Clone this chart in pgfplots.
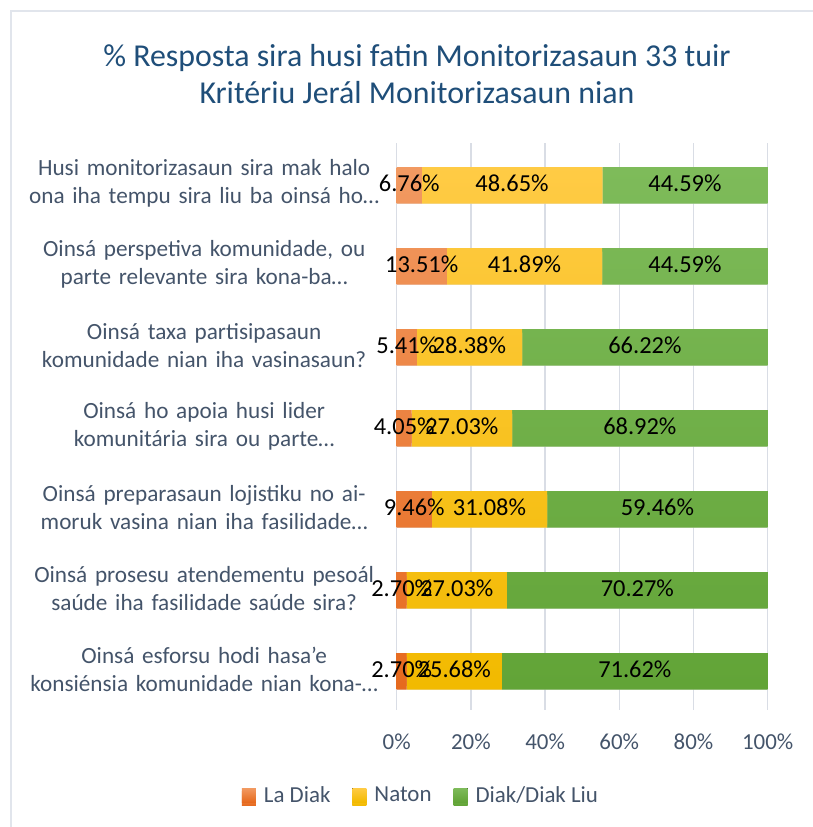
\documentclass[border=0pt]{standalone}
\usepackage{pgfplots}
\usepackage{pgfplotstable}
\pgfplotsset{compat=1.18}
\usepackage{fontspec}
\setmainfont{Carlito}

\definecolor{titleblue}{HTML}{1F4E79}
\definecolor{txtgray}{HTML}{44546A}
\definecolor{gridgray}{HTML}{D9DDE5}
\definecolor{framegray}{HTML}{E1E5EC}
\definecolor{shadowgray}{HTML}{DCDCDC}
\definecolor{orTop}{HTML}{F29A62}
\definecolor{orBot}{HTML}{E66A1E}
\definecolor{yeTop}{HTML}{FFCB45}
\definecolor{yeBot}{HTML}{F2BA00}
\definecolor{grTop}{HTML}{7EBB5A}
\definecolor{grBot}{HTML}{62A437}

% y: row, a: La Diak, b: Naton, c: Diak/Diak Liu
\pgfplotstableread{
y a     b     c
0 6.76  48.65 44.59
1 13.51 41.89 44.59
2 5.41  28.38 66.22
3 4.05  27.03 68.92
4 9.46  31.08 59.46
5 2.70  27.03 70.27
6 2.70  25.68 71.62
}\datatable

\pgfplotsset{
  frame/.style={
    at={(396.7bp,117bp)}, anchor=south west,
    scale only axis,
    width=371bp, height=567bp,
    xmin=0, xmax=100,
    ymin=-0.5, ymax=6.5,
    y dir=reverse,
  },
  shadowed/.style={preaction={fill=shadowgray, transform canvas={yshift=-3.5bp}}},
}

\begin{document}
\begin{tikzpicture}
\path[use as bounding box] (0bp,0bp) rectangle (813bp,827bp);
% frame of the chart area
\draw[framegray, line width=2bp] (10.5bp,0bp) -- (10.5bp,816bp) -- (813bp,816bp);

\node[align=center, text=titleblue, font=\fontsize{32}{38}\selectfont]
  at (417bp,753bp) {\% Resposta sira husi fatin Monitorizasaun 33 tuir\\Kritériu Jerál Monitorizasaun nian};

\begin{axis}[
    frame,
    xbar stacked,
    bar width=33bp,
    xtick={0,20,40,60,80,100},
    xticklabel={\pgfmathprintnumber{\tick}\%},
    ytick={0,...,6},
    yticklabels={
      {Husi monitorizasaun sira mak halo\\ona iha tempu sira liu ba oinsá ho…},
      {Oinsá perspetiva komunidade, ou\\parte relevante sira kona-ba…},
      {Oinsá taxa partisipasaun\\komunidade nian iha vasinasaun?},
      {Oinsá ho apoia husi lider\\komunitária sira ou parte…},
      {Oinsá preparasaun lojistiku no ai-\\moruk vasina nian iha fasilidade…},
      {Oinsá prosesu atendementu pesoál\\saúde iha fasilidade saúde sira?},
      {Oinsá esforsu hodi hasa’e\\konsiénsia komunidade nian kona-…}},
    yticklabel style={align=center, text width=360bp, text=txtgray,
      font=\fontsize{23.3}{27.5}\selectfont, xshift=-9bp},
    xticklabel style={text=txtgray, font=\fontsize{23}{27}\selectfont, yshift=-20bp},
    /pgf/number format/assume math mode=true,
    major tick length=0pt,
    axis line style={draw=none},
    xmajorgrids,
    grid style={gridgray, line width=1.5bp},
    legend style={at={(0.0655,-0.15)}, anchor=center, draw=none,
      legend columns=-1, font=\fontsize{23}{27}\selectfont, text=txtgray,
      /tikz/every odd column/.append style={column sep=6bp},
      /tikz/every even column/.append style={column sep=20bp}},
    legend image code/.code={\fill[#1] (0bp,-7bp) rectangle (14bp,7bp);},
]
\addplot[draw=none, shadowed, top color=orTop, bottom color=orBot] table[x=a, y=y] {\datatable};
\addlegendentry{La Diak}
\addplot[draw=none, shadowed, top color=yeTop, bottom color=yeBot] table[x=b, y=y] {\datatable};
\addlegendentry{Naton}
\addplot[draw=none, shadowed, top color=grTop, bottom color=grBot] table[x=c, y=y] {\datatable};
\addlegendentry{Diak/Diak Liu}
\end{axis}

% data labels, centred on each segment, drawn above all bars
\begin{axis}[
    frame, hide axis,
    point meta=explicit,
    nodes near coords={\pgfmathprintnumber[fixed,zerofill,precision=2,assume math mode=true]{\pgfplotspointmeta}\%},
    every node near coord/.append style={font=\fontsize{24.5}{28}\selectfont,
      text=black, anchor=center, inner sep=0pt},
]
\addplot[draw=none, mark=none] table[x expr=\thisrow{a}/2, y=y, meta=a] {\datatable};
\addplot[draw=none, mark=none] table[x expr=\thisrow{a}+\thisrow{b}/2, y=y, meta=b] {\datatable};
\addplot[draw=none, mark=none] table[x expr=\thisrow{a}+\thisrow{b}+\thisrow{c}/2, y=y, meta=c] {\datatable};
\end{axis}
\end{tikzpicture}
\end{document}
